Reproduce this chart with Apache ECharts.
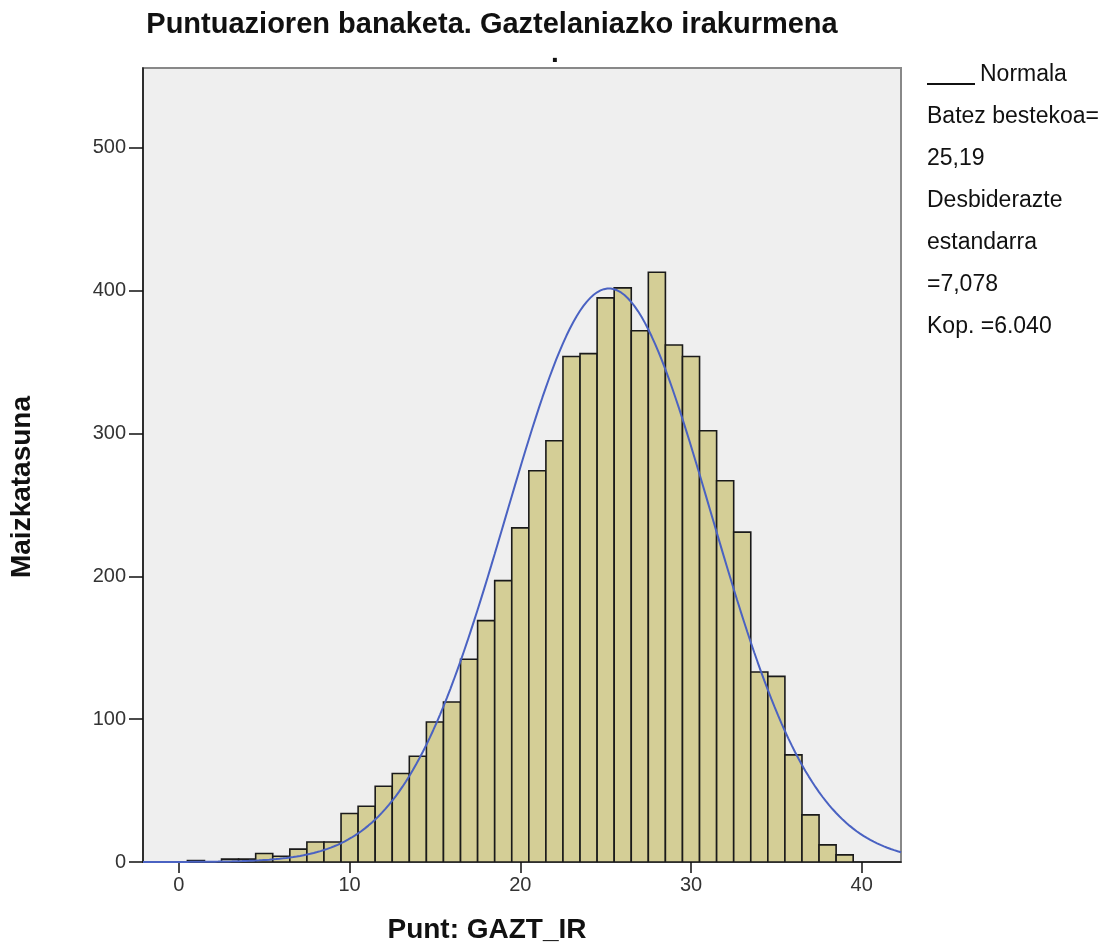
<!DOCTYPE html>
<html>
<head>
<meta charset="utf-8">
<script src="https://cdn.jsdelivr.net/npm/echarts@6/dist/echarts.min.js"></script>
<style>
html, body { margin: 0; padding: 0; background: #fff; }
#chart { width: 1115px; height: 951px; }
</style>
</head>
<body>
<div id="chart"></div>
<script>
// histogram bins (centre of each 1-point bin) and frequencies
const scores = [1, 2, 3, 4, 5, 6, 7, 8, 9, 10, 11, 12, 13, 14, 15, 16, 17, 18, 19, 20,
  21, 22, 23, 24, 25, 26, 27, 28, 29, 30, 31, 32, 33, 34, 35, 36, 37, 38, 39]
const counts = [1, 0, 2, 2, 6, 4, 9, 14, 14, 34, 39, 53, 62, 74, 98, 112, 142, 169, 197, 234,
  274, 295, 354, 356, 395, 402, 372, 413, 362, 354, 302, 267, 231, 133, 130, 75, 33, 12, 5]

const xTicks = [0, 10, 20, 30, 40]
const yTicks = [0, 100, 200, 300, 400, 500]

const titleText = 'Puntuazioren banaketa. Gaztelaniazko irakurmena'
const xName = 'Punt: GAZT_IR'
const yName = 'Maizkatasuna'
const legendLines = ['Batez bestekoa=', '25,19', 'Desbiderazte', 'estandarra', '=7,078', 'Kop. =6.040']

// normal curve as drawn in the picture
const curveMean = 25.19
const curveSd = 6.0
const curveN = 6040

const xMin = -2.1, xMax = 42.3

const curve = []
for (let x = xMin; x <= xMax + 0.001; x += 0.2) {
  const z = (x - curveMean) / curveSd
  curve.push([x, curveN / (curveSd * Math.sqrt(2 * Math.PI)) * Math.exp(-z * z / 2)])
}

const font = "'Liberation Sans', Arial, sans-serif"
const chart = echarts.init(document.getElementById('chart'))

// legend text block on the right, one line every 42px
const legendGraphics = legendLines.map((t, i) => ({
  type: 'text',
  x: 927,
  y: 75 + (i + 1) * 42,
  style: { text: t, font: '23px ' + font, fill: '#111', verticalAlign: 'middle' }
}))

chart.setOption({
  animation: false,
  grid: {
    left: 143, top: 68, width: 758, height: 794,
    show: true, backgroundColor: '#efefef', borderColor: '#888', borderWidth: 2
  },
  xAxis: {
    type: 'value', min: xMin, max: xMax,
    splitLine: { show: false },
    axisLine: { show: true, onZero: false, lineStyle: { color: '#111', width: 1.5 } },
    axisTick: { show: true, customValues: xTicks, length: 11, lineStyle: { color: '#111', width: 1.5 } },
    axisLabel: { customValues: xTicks, margin: 13, fontSize: 20, color: '#333', fontFamily: font }
  },
  yAxis: {
    type: 'value', min: 0, max: 556,
    splitLine: { show: false },
    axisLine: { show: true, onZero: false, lineStyle: { color: '#111', width: 1.5 } },
    axisTick: { show: true, customValues: yTicks, length: 14, lineStyle: { color: '#111', width: 1.5 } },
    axisLabel: { customValues: yTicks, margin: 17, fontSize: 20, color: '#333', fontFamily: font }
  },
  series: [
    {
      type: 'custom',
      clip: true,
      data: scores.map((s, i) => [s, counts[i]]),
      encode: { x: 0, y: 1 },
      renderItem: function (params, api) {
        const x = api.value(0)
        const y = api.value(1)
        if (!y) return null
        const p0 = api.coord([x - 0.5, 0])
        const p1 = api.coord([x + 0.5, y])
        return {
          type: 'rect',
          shape: { x: p0[0], y: p1[1], width: p1[0] - p0[0], height: p0[1] - p1[1] },
          style: { fill: '#d4ce96', stroke: '#1a1a1a', lineWidth: 1.6 }
        }
      }
    },
    {
      type: 'line',
      data: curve,
      showSymbol: false,
      clip: true,
      lineStyle: { color: '#4a62c2', width: 2 },
      z: 5
    }
  ],
  graphic: [
    {
      type: 'text', x: 492, y: 25,
      style: { text: titleText, font: 'bold 29px ' + font, fill: '#111', align: 'center', verticalAlign: 'middle' }
    },
    { type: 'text', x: 551, y: 40, style: { text: '.', font: 'bold 28px ' + font, fill: '#111' } },
    {
      type: 'text', x: 22, y: 487, rotation: Math.PI / 2,
      style: { text: yName, font: 'bold 28px ' + font, fill: '#111', align: 'center', verticalAlign: 'middle' }
    },
    {
      type: 'text', x: 487, y: 930,
      style: { text: xName, font: 'bold 28px ' + font, fill: '#111', align: 'center', verticalAlign: 'middle' }
    },
    { type: 'line', shape: { x1: 927, y1: 84, x2: 975, y2: 84 }, style: { stroke: '#111', lineWidth: 2 } },
    { type: 'text', x: 980, y: 75, style: { text: 'Normala', font: '23px ' + font, fill: '#111', verticalAlign: 'middle' } }
  ].concat(legendGraphics)
})
</script>
</body>
</html>
